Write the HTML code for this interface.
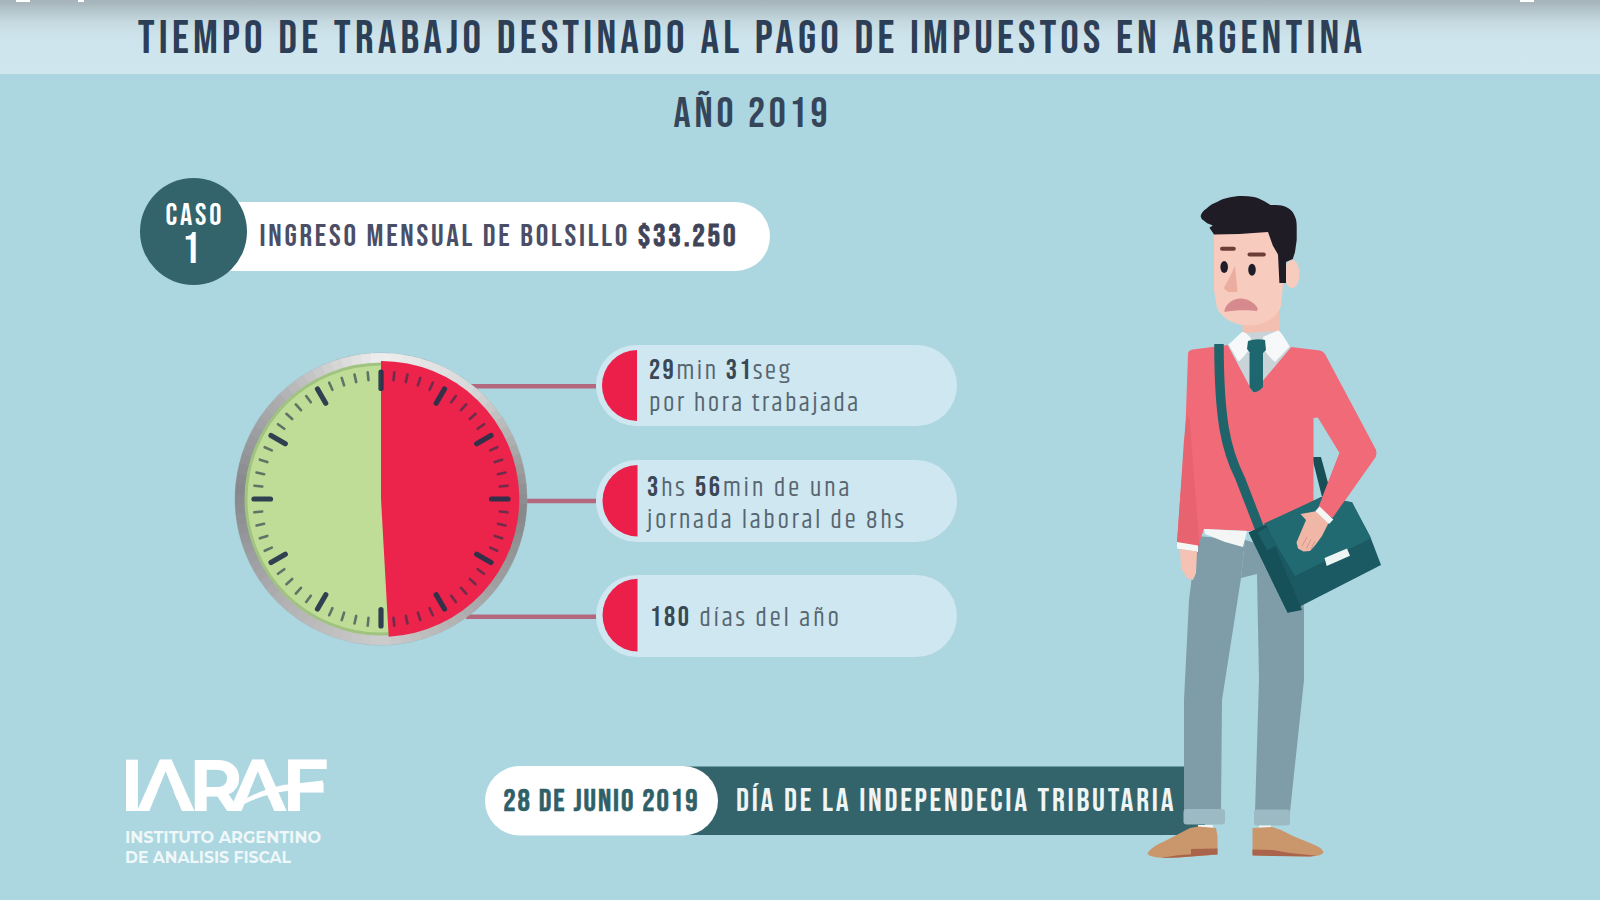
<!DOCTYPE html>
<html lang="es">
<head>
<meta charset="utf-8">
<title>Tiempo de trabajo destinado al pago de impuestos en Argentina</title>
<style>
html,body{margin:0;padding:0;width:1600px;height:900px;overflow:hidden;background:#acd7e0}
svg{display:block}
.bb{font-family:"Bebas Neue","Liberation Sans",sans-serif}
.kh{font-family:"Khand","Liberation Sans",sans-serif}
.mo{font-family:"Montserrat","Liberation Sans",sans-serif}
</style>
</head>
<body>
<svg width="1600" height="900" viewBox="0 0 1600 900">
<defs>
  <linearGradient id="band" x1="0" y1="0" x2="0" y2="1">
    <stop offset="0" stop-color="#a5b3ba"/>
    <stop offset="0.05" stop-color="#a9b8be"/>
    <stop offset="0.15" stop-color="#b5c7cd"/>
    <stop offset="0.3" stop-color="#c5d9e0"/>
    <stop offset="0.5" stop-color="#cee4ec"/>
    <stop offset="1" stop-color="#d0e7ef"/>
  </linearGradient>
</defs>

<!-- background -->
<rect x="0" y="0" width="1600" height="900" fill="#acd7e0"/>
<rect x="0" y="73" width="1600" height="8" fill="#acd5e2"/>
<rect x="0" y="0" width="1600" height="74" fill="url(#band)"/>
<rect x="16" y="0" width="14" height="2" fill="#ffffff"/>
<rect x="78" y="0" width="6" height="2" fill="#ffffff"/>
<rect x="1520" y="0" width="14" height="2" fill="#ffffff"/>

<!-- titles -->
<text class="bb" x="137.8" y="52.9" font-size="46.3" fill="#2d3f56" letter-spacing="4.18" textLength="1228.4" lengthAdjust="spacingAndGlyphs">TIEMPO DE TRABAJO DESTINADO AL PAGO DE IMPUESTOS EN ARGENTINA</text>
<text class="bb" x="673.5" y="127.3" font-size="42.6" fill="#35465b" letter-spacing="3.81" textLength="157.8" lengthAdjust="spacingAndGlyphs">AÑO 2019</text>

<!-- caso pill -->
<rect x="180" y="202" width="590" height="69" rx="34.5" fill="#ffffff"/>
<circle cx="193.5" cy="231.5" r="53.5" fill="#33646b"/>
<text class="bb" x="165.5" y="225.3" font-size="30.4" fill="#ffffff" letter-spacing="2.93" textLength="58.9" lengthAdjust="spacingAndGlyphs">CASO</text>
<text class="bb" x="191" y="263.3" font-size="43.7" fill="#ffffff" text-anchor="middle">1</text>
<text class="bb" x="259.5" y="246.2" font-size="31.4" fill="#4a4f67" letter-spacing="2.74" textLength="478.7" lengthAdjust="spacingAndGlyphs">INGRESO MENSUAL DE BOLSILLO <tspan fill="#3f4459" stroke="#3f4459" stroke-width="0.8">$33.250</tspan></text>

<!-- connectors -->
<g stroke="#b3687e" stroke-width="4.4">
  <line x1="470" y1="386.2" x2="596" y2="386.2"/>
  <line x1="520" y1="501" x2="596" y2="501"/>
  <line x1="466" y1="616.8" x2="596" y2="616.8"/>
</g>

<!-- clock -->
<g id="clock">
  <circle cx="381" cy="499" r="146.5" fill="#9aa6aa" opacity="0.5"/><g id="ringsegs" fill="none" stroke-width="11"><path d="M381.00,358.50 A140.5,140.5 0 0 1 392.27,358.95" stroke="#ededed"/><path d="M390.80,358.84 A140.5,140.5 0 0 1 402.01,360.08" stroke="#ebebeb"/><path d="M400.55,359.87 A140.5,140.5 0 0 1 411.65,361.88" stroke="#e8e8e8"/><path d="M410.21,361.57 A140.5,140.5 0 0 1 421.14,364.36" stroke="#e6e6e6"/><path d="M419.73,363.94 A140.5,140.5 0 0 1 430.43,367.48" stroke="#e4e4e4"/><path d="M429.05,366.97 A140.5,140.5 0 0 1 439.49,371.25" stroke="#e2e2e2"/><path d="M438.15,370.65 A140.5,140.5 0 0 1 448.26,375.64" stroke="#e0e0e0"/><path d="M446.96,374.95 A140.5,140.5 0 0 1 456.70,380.64" stroke="#dddddd"/><path d="M455.45,379.85 A140.5,140.5 0 0 1 464.77,386.20" stroke="#dbdbdb"/><path d="M463.58,385.33 A140.5,140.5 0 0 1 472.43,392.32" stroke="#d9d9d9"/><path d="M471.31,391.37 A140.5,140.5 0 0 1 479.65,398.96" stroke="#d4d4d4"/><path d="M478.60,397.93 A140.5,140.5 0 0 1 486.39,406.09" stroke="#cecece"/><path d="M485.41,404.99 A140.5,140.5 0 0 1 492.62,413.66" stroke="#c8c8c8"/><path d="M491.72,412.50 A140.5,140.5 0 0 1 498.30,421.66" stroke="#c1c1c1"/><path d="M497.48,420.43 A140.5,140.5 0 0 1 503.41,430.03" stroke="#bbbbbb"/><path d="M502.68,428.75 A140.5,140.5 0 0 1 507.92,438.73" stroke="#b4b4b4"/><path d="M507.28,437.41 A140.5,140.5 0 0 1 511.81,447.73" stroke="#aeaeae"/><path d="M511.27,446.37 A140.5,140.5 0 0 1 515.07,456.98" stroke="#a8a8a8"/><path d="M514.62,455.58 A140.5,140.5 0 0 1 517.68,466.44" stroke="#a1a1a1"/><path d="M517.33,465.01 A140.5,140.5 0 0 1 519.61,476.05" stroke="#9c9c9c"/><path d="M519.37,474.60 A140.5,140.5 0 0 1 520.88,485.78" stroke="#979798"/><path d="M520.73,484.31 A140.5,140.5 0 0 1 521.46,495.57" stroke="#919294"/><path d="M521.41,494.10 A140.5,140.5 0 0 1 521.36,505.37" stroke="#8c8e8f"/><path d="M521.41,503.90 A140.5,140.5 0 0 1 520.57,515.15" stroke="#87898b"/><path d="M520.73,513.69 A140.5,140.5 0 0 1 519.10,524.85" stroke="#898a8c"/><path d="M519.37,523.40 A140.5,140.5 0 0 1 516.96,534.42" stroke="#8c8d8f"/><path d="M517.33,532.99 A140.5,140.5 0 0 1 514.16,543.81" stroke="#8f9092"/><path d="M514.62,542.42 A140.5,140.5 0 0 1 510.71,552.99" stroke="#929395"/><path d="M511.27,551.63 A140.5,140.5 0 0 1 506.63,561.91" stroke="#959698"/><path d="M507.28,560.59 A140.5,140.5 0 0 1 501.93,570.52" stroke="#99999b"/><path d="M502.68,569.25 A140.5,140.5 0 0 1 496.65,578.78" stroke="#9c9c9e"/><path d="M497.48,577.57 A140.5,140.5 0 0 1 490.80,586.66" stroke="#9f9fa1"/><path d="M491.72,585.50 A140.5,140.5 0 0 1 484.42,594.10" stroke="#a2a2a4"/><path d="M485.41,593.01 A140.5,140.5 0 0 1 477.54,601.08" stroke="#a6a6a7"/><path d="M478.60,600.07 A140.5,140.5 0 0 1 470.18,607.57" stroke="#a9a9ab"/><path d="M471.31,606.63 A140.5,140.5 0 0 1 462.39,613.53" stroke="#acacae"/><path d="M463.58,612.67 A140.5,140.5 0 0 1 454.20,618.92" stroke="#b0b0b1"/><path d="M455.45,618.15 A140.5,140.5 0 0 1 445.66,623.74" stroke="#b3b3b4"/><path d="M446.96,623.05 A140.5,140.5 0 0 1 436.80,627.94" stroke="#b6b6b7"/><path d="M438.15,627.35 A140.5,140.5 0 0 1 427.67,631.52" stroke="#bababb"/><path d="M429.05,631.03 A140.5,140.5 0 0 1 418.31,634.46" stroke="#bdbdbe"/><path d="M419.73,634.06 A140.5,140.5 0 0 1 408.77,636.73" stroke="#c0c0c1"/><path d="M410.21,636.43 A140.5,140.5 0 0 1 399.10,638.33" stroke="#c4c4c4"/><path d="M400.55,638.13 A140.5,140.5 0 0 1 389.33,639.25" stroke="#c7c7c7"/><path d="M390.80,639.16 A140.5,140.5 0 0 1 379.53,639.49" stroke="#cbcbcb"/><path d="M381.00,639.50 A140.5,140.5 0 0 1 369.73,639.05" stroke="#cbcbcb"/><path d="M371.20,639.16 A140.5,140.5 0 0 1 359.99,637.92" stroke="#c8c8c8"/><path d="M361.45,638.13 A140.5,140.5 0 0 1 350.35,636.12" stroke="#c6c6c6"/><path d="M351.79,636.43 A140.5,140.5 0 0 1 340.86,633.64" stroke="#c3c3c4"/><path d="M342.27,634.06 A140.5,140.5 0 0 1 331.57,630.52" stroke="#c1c1c1"/><path d="M332.95,631.03 A140.5,140.5 0 0 1 322.51,626.75" stroke="#bebebf"/><path d="M323.85,627.35 A140.5,140.5 0 0 1 313.74,622.36" stroke="#bcbcbd"/><path d="M315.04,623.05 A140.5,140.5 0 0 1 305.30,617.36" stroke="#b9b9ba"/><path d="M306.55,618.15 A140.5,140.5 0 0 1 297.23,611.80" stroke="#b7b7b8"/><path d="M298.42,612.67 A140.5,140.5 0 0 1 289.57,605.68" stroke="#b4b4b6"/><path d="M290.69,606.63 A140.5,140.5 0 0 1 282.35,599.04" stroke="#b2b2b4"/><path d="M283.40,600.07 A140.5,140.5 0 0 1 275.61,591.91" stroke="#afafb1"/><path d="M276.59,593.01 A140.5,140.5 0 0 1 269.38,584.34" stroke="#ababae"/><path d="M270.28,585.50 A140.5,140.5 0 0 1 263.70,576.34" stroke="#a7a8aa"/><path d="M264.52,577.57 A140.5,140.5 0 0 1 258.59,567.97" stroke="#a4a4a7"/><path d="M259.32,569.25 A140.5,140.5 0 0 1 254.08,559.27" stroke="#a0a1a4"/><path d="M254.72,560.59 A140.5,140.5 0 0 1 250.19,550.27" stroke="#9c9ea1"/><path d="M250.73,551.63 A140.5,140.5 0 0 1 246.93,541.02" stroke="#999a9d"/><path d="M247.38,542.42 A140.5,140.5 0 0 1 244.32,531.56" stroke="#95979a"/><path d="M244.67,532.99 A140.5,140.5 0 0 1 242.39,521.95" stroke="#919397"/><path d="M242.63,523.40 A140.5,140.5 0 0 1 241.12,512.22" stroke="#8e9094"/><path d="M241.27,513.69 A140.5,140.5 0 0 1 240.54,502.43" stroke="#8b8d91"/><path d="M240.59,503.90 A140.5,140.5 0 0 1 240.64,492.63" stroke="#898b8f"/><path d="M240.59,494.10 A140.5,140.5 0 0 1 241.43,482.85" stroke="#86888c"/><path d="M241.27,484.31 A140.5,140.5 0 0 1 242.90,473.15" stroke="#898b8f"/><path d="M242.63,474.60 A140.5,140.5 0 0 1 245.04,463.58" stroke="#8d8f93"/><path d="M244.67,465.01 A140.5,140.5 0 0 1 247.84,454.19" stroke="#919396"/><path d="M247.38,455.58 A140.5,140.5 0 0 1 251.29,445.01" stroke="#95979a"/><path d="M250.73,446.37 A140.5,140.5 0 0 1 255.37,436.09" stroke="#999a9d"/><path d="M254.72,437.41 A140.5,140.5 0 0 1 260.07,427.48" stroke="#9d9ea1"/><path d="M259.32,428.75 A140.5,140.5 0 0 1 265.35,419.22" stroke="#a1a2a5"/><path d="M264.52,420.43 A140.5,140.5 0 0 1 271.20,411.34" stroke="#a5a6a8"/><path d="M270.28,412.50 A140.5,140.5 0 0 1 277.58,403.90" stroke="#a9aaac"/><path d="M276.59,404.99 A140.5,140.5 0 0 1 284.46,396.92" stroke="#adadaf"/><path d="M283.40,397.93 A140.5,140.5 0 0 1 291.82,390.43" stroke="#b3b3b5"/><path d="M290.69,391.37 A140.5,140.5 0 0 1 299.61,384.47" stroke="#b9b9ba"/><path d="M298.42,385.33 A140.5,140.5 0 0 1 307.80,379.08" stroke="#bfbfc0"/><path d="M306.55,379.85 A140.5,140.5 0 0 1 316.34,374.26" stroke="#c4c4c5"/><path d="M315.04,374.95 A140.5,140.5 0 0 1 325.20,370.06" stroke="#cacacb"/><path d="M323.85,370.65 A140.5,140.5 0 0 1 334.33,366.48" stroke="#d0d0d1"/><path d="M332.95,366.97 A140.5,140.5 0 0 1 343.69,363.54" stroke="#d6d6d6"/><path d="M342.27,363.94 A140.5,140.5 0 0 1 353.23,361.27" stroke="#dcdcdc"/><path d="M351.79,361.57 A140.5,140.5 0 0 1 362.90,359.67" stroke="#e1e1e1"/><path d="M361.45,359.87 A140.5,140.5 0 0 1 372.67,358.75" stroke="#e6e6e6"/><path d="M371.20,358.84 A140.5,140.5 0 0 1 382.47,358.51" stroke="#ececec"/></g>
  <circle cx="381" cy="499" r="136.5" fill="#a0c47f"/>
  <circle cx="381" cy="499" r="133.5" fill="#bfdd96"/>
  <path id="redsector" d="M381,499 L381,361 A138,138 0 0 1 388.7,636.8 Z" fill="#ec234b"/>
  <g id="ticks" stroke="#24324a" stroke-linecap="round"><line x1="381.0" y1="388.5" x2="381.0" y2="372.0" stroke-width="5.2" stroke-opacity="0.92"/><line x1="393.5" y1="380.2" x2="394.3" y2="372.4" stroke-width="2.6" stroke-opacity="0.62"/><line x1="405.8" y1="382.1" x2="407.5" y2="374.5" stroke-width="2.6" stroke-opacity="0.62"/><line x1="417.9" y1="385.3" x2="420.3" y2="377.9" stroke-width="2.6" stroke-opacity="0.62"/><line x1="429.6" y1="389.8" x2="432.8" y2="382.7" stroke-width="2.6" stroke-opacity="0.62"/><line x1="436.2" y1="403.3" x2="444.5" y2="389.0" stroke-width="5.2" stroke-opacity="0.92"/><line x1="451.2" y1="402.3" x2="455.8" y2="396.0" stroke-width="2.6" stroke-opacity="0.62"/><line x1="461.0" y1="410.2" x2="466.2" y2="404.4" stroke-width="2.6" stroke-opacity="0.62"/><line x1="469.8" y1="419.0" x2="475.6" y2="413.8" stroke-width="2.6" stroke-opacity="0.62"/><line x1="477.7" y1="428.8" x2="484.0" y2="424.2" stroke-width="2.6" stroke-opacity="0.62"/><line x1="476.7" y1="443.8" x2="491.0" y2="435.5" stroke-width="5.2" stroke-opacity="0.92"/><line x1="490.2" y1="450.4" x2="497.3" y2="447.2" stroke-width="2.6" stroke-opacity="0.62"/><line x1="494.7" y1="462.1" x2="502.1" y2="459.7" stroke-width="2.6" stroke-opacity="0.62"/><line x1="497.9" y1="474.2" x2="505.5" y2="472.5" stroke-width="2.6" stroke-opacity="0.62"/><line x1="499.8" y1="486.5" x2="507.6" y2="485.7" stroke-width="2.6" stroke-opacity="0.62"/><line x1="491.5" y1="499.0" x2="508.0" y2="499.0" stroke-width="5.2" stroke-opacity="0.92"/><line x1="499.8" y1="511.5" x2="507.6" y2="512.3" stroke-width="2.6" stroke-opacity="0.62"/><line x1="497.9" y1="523.8" x2="505.5" y2="525.5" stroke-width="2.6" stroke-opacity="0.62"/><line x1="494.7" y1="535.9" x2="502.1" y2="538.3" stroke-width="2.6" stroke-opacity="0.62"/><line x1="490.2" y1="547.6" x2="497.3" y2="550.8" stroke-width="2.6" stroke-opacity="0.62"/><line x1="476.7" y1="554.2" x2="491.0" y2="562.5" stroke-width="5.2" stroke-opacity="0.92"/><line x1="477.7" y1="569.2" x2="484.0" y2="573.8" stroke-width="2.6" stroke-opacity="0.62"/><line x1="469.8" y1="579.0" x2="475.6" y2="584.2" stroke-width="2.6" stroke-opacity="0.62"/><line x1="461.0" y1="587.8" x2="466.2" y2="593.6" stroke-width="2.6" stroke-opacity="0.62"/><line x1="451.2" y1="595.7" x2="455.8" y2="602.0" stroke-width="2.6" stroke-opacity="0.62"/><line x1="436.2" y1="594.7" x2="444.5" y2="609.0" stroke-width="5.2" stroke-opacity="0.92"/><line x1="429.6" y1="608.2" x2="432.8" y2="615.3" stroke-width="2.6" stroke-opacity="0.62"/><line x1="417.9" y1="612.7" x2="420.3" y2="620.1" stroke-width="2.6" stroke-opacity="0.62"/><line x1="405.8" y1="615.9" x2="407.5" y2="623.5" stroke-width="2.6" stroke-opacity="0.62"/><line x1="393.5" y1="617.8" x2="394.3" y2="625.6" stroke-width="2.6" stroke-opacity="0.62"/><line x1="381.0" y1="609.5" x2="381.0" y2="626.0" stroke-width="5.2" stroke-opacity="0.92"/><line x1="368.5" y1="617.8" x2="367.7" y2="625.6" stroke-width="2.6" stroke-opacity="0.62"/><line x1="356.2" y1="615.9" x2="354.5" y2="623.5" stroke-width="2.6" stroke-opacity="0.62"/><line x1="344.1" y1="612.7" x2="341.7" y2="620.1" stroke-width="2.6" stroke-opacity="0.62"/><line x1="332.4" y1="608.2" x2="329.2" y2="615.3" stroke-width="2.6" stroke-opacity="0.62"/><line x1="325.8" y1="594.7" x2="317.5" y2="609.0" stroke-width="5.2" stroke-opacity="0.92"/><line x1="310.8" y1="595.7" x2="306.2" y2="602.0" stroke-width="2.6" stroke-opacity="0.62"/><line x1="301.0" y1="587.8" x2="295.8" y2="593.6" stroke-width="2.6" stroke-opacity="0.62"/><line x1="292.2" y1="579.0" x2="286.4" y2="584.2" stroke-width="2.6" stroke-opacity="0.62"/><line x1="284.3" y1="569.2" x2="278.0" y2="573.8" stroke-width="2.6" stroke-opacity="0.62"/><line x1="285.3" y1="554.2" x2="271.0" y2="562.5" stroke-width="5.2" stroke-opacity="0.92"/><line x1="271.8" y1="547.6" x2="264.7" y2="550.8" stroke-width="2.6" stroke-opacity="0.62"/><line x1="267.3" y1="535.9" x2="259.9" y2="538.3" stroke-width="2.6" stroke-opacity="0.62"/><line x1="264.1" y1="523.8" x2="256.5" y2="525.5" stroke-width="2.6" stroke-opacity="0.62"/><line x1="262.2" y1="511.5" x2="254.4" y2="512.3" stroke-width="2.6" stroke-opacity="0.62"/><line x1="270.5" y1="499.0" x2="254.0" y2="499.0" stroke-width="5.2" stroke-opacity="0.92"/><line x1="262.2" y1="486.5" x2="254.4" y2="485.7" stroke-width="2.6" stroke-opacity="0.62"/><line x1="264.1" y1="474.2" x2="256.5" y2="472.5" stroke-width="2.6" stroke-opacity="0.62"/><line x1="267.3" y1="462.1" x2="259.9" y2="459.7" stroke-width="2.6" stroke-opacity="0.62"/><line x1="271.8" y1="450.4" x2="264.7" y2="447.2" stroke-width="2.6" stroke-opacity="0.62"/><line x1="285.3" y1="443.8" x2="271.0" y2="435.5" stroke-width="5.2" stroke-opacity="0.92"/><line x1="284.3" y1="428.8" x2="278.0" y2="424.2" stroke-width="2.6" stroke-opacity="0.62"/><line x1="292.2" y1="419.0" x2="286.4" y2="413.8" stroke-width="2.6" stroke-opacity="0.62"/><line x1="301.0" y1="410.2" x2="295.8" y2="404.4" stroke-width="2.6" stroke-opacity="0.62"/><line x1="310.8" y1="402.3" x2="306.2" y2="396.0" stroke-width="2.6" stroke-opacity="0.62"/><line x1="325.7" y1="403.3" x2="317.5" y2="389.0" stroke-width="5.2" stroke-opacity="0.92"/><line x1="332.4" y1="389.8" x2="329.2" y2="382.7" stroke-width="2.6" stroke-opacity="0.62"/><line x1="344.1" y1="385.3" x2="341.7" y2="377.9" stroke-width="2.6" stroke-opacity="0.62"/><line x1="356.2" y1="382.1" x2="354.5" y2="374.5" stroke-width="2.6" stroke-opacity="0.62"/><line x1="368.5" y1="380.2" x2="367.7" y2="372.4" stroke-width="2.6" stroke-opacity="0.62"/></g>
</g>

<!-- pills -->
<g>
  <rect x="596" y="345" width="361" height="81" rx="40.5" fill="#cfe7f0"/>
  <path d="M637,350 A35,35.5 0 0 0 637,421 Z" fill="#ec1f4b"/>
  <rect x="596" y="460" width="361" height="82" rx="41" fill="#cfe7f0"/>
  <path d="M637.5,465 A35,35.8 0 0 0 637.5,536.6 Z" fill="#ec1f4b"/>
  <rect x="596" y="575" width="361" height="82" rx="41" fill="#cfe7f0"/>
  <path d="M637.5,578.8 A35,36.3 0 0 0 637.5,651.4 Z" fill="#ec1f4b"/>
</g>
<g class="kh" fill="#56656f" font-size="26" font-weight="400">
  <text id="t1a" x="649" y="379" letter-spacing="2.36" textLength="143.4" lengthAdjust="spacingAndGlyphs"><tspan class="bb" font-size="28" font-weight="400" fill="#3a4856">29</tspan>min <tspan class="bb" font-size="28" font-weight="400" fill="#3a4856">31</tspan>seg</text>
  <text id="t1b" x="649" y="411" letter-spacing="2.33" textLength="211.7" lengthAdjust="spacingAndGlyphs">por hora trabajada</text>
  <text id="t2a" x="647" y="496" letter-spacing="2.69" textLength="205.3" lengthAdjust="spacingAndGlyphs"><tspan class="bb" font-size="28" font-weight="400" fill="#3a4856">3</tspan>hs <tspan class="bb" font-size="28" font-weight="400" fill="#3a4856">56</tspan>min de una</text>
  <text id="t2b" x="647" y="528" letter-spacing="2.52" textLength="259.3" lengthAdjust="spacingAndGlyphs">jornada laboral de 8hs</text>
  <text id="t3" x="650" y="626" letter-spacing="2.7" textLength="191.7" lengthAdjust="spacingAndGlyphs"><tspan class="bb" font-size="28" font-weight="400" fill="#3a4856">180</tspan> días del año</text>
</g>

<!-- bottom banner -->
<rect x="680" y="766.5" width="525" height="68.5" rx="3" fill="#33646b"/>
<rect x="485" y="766" width="233" height="69.5" rx="34.75" fill="#ffffff"/>
<text class="bb" x="503.3" y="811" font-size="31" fill="#2f6068" stroke="#2f6068" stroke-width="0.6" letter-spacing="1.92" textLength="196.2" lengthAdjust="spacingAndGlyphs">28 DE JUNIO 2019</text>
<text class="bb" x="736" y="811.2" font-size="32" fill="#eef5f4" letter-spacing="2.73" textLength="440.2" lengthAdjust="spacingAndGlyphs">DÍA DE LA INDEPENDECIA TRIBUTARIA</text>

<!-- logo -->
<g fill="#ffffff">
  <text class="mo" x="120 137.7 188.8 230 282" y="810.5" font-size="73" font-weight="700">IARAF</text><polygon points="159.0,787.7 172.0,787.7 177.6,801.2 153.4,801.2" fill="#acd7e0"/><polygon points="251.3,787.7 264.3,787.7 269.9,801.2 245.7,801.2" fill="#acd7e0"/><path d="M229,810 C242,799 260,790 283,785 L323,780.5 L322,789 L290,790.5 C268,793 250,800 233,810 Z" fill="#ffffff"/>
  <text class="mo" x="125" y="843" font-size="16" font-weight="700" fill-opacity="0.82" textLength="196" lengthAdjust="spacingAndGlyphs">INSTITUTO ARGENTINO</text>
  <text class="mo" x="125" y="863" font-size="16" font-weight="700" fill-opacity="0.82" textLength="166" lengthAdjust="spacingAndGlyphs">DE ANALISIS FISCAL</text>
</g>

<!-- person -->
<g id="person">
  <!-- back strap -->
  <polygon points="1312,457 1321,457 1331,494 1322,497" fill="#1a4e55"/>
  <!-- legs -->
  <polygon points="1245,540 1302,556 1304,612 1304,680 1290,812 1255,812 1259,680 1257,574 1241,578" fill="#7f9da8"/>
  <polygon points="1197,536 1245,540 1241,578 1222,700 1221,812 1184,812 1184,700 1189,600" fill="#7f9da8"/>
  <rect x="1183.5" y="809" width="41.5" height="15.5" rx="3" fill="#9bbac4"/>
  <rect x="1254" y="809.5" width="36" height="16" rx="3" fill="#9bbac4"/>
  <!-- socks -->
  <rect x="1198" y="825" width="15" height="5" fill="#f2f4f4"/>
  <rect x="1259" y="825.5" width="12" height="4.5" fill="#f2f4f4"/>
  <!-- shoes -->
  <path d="M1147.5,854 C1149,849 1156,845 1165,841 L1190,828 L1198,826.5 L1216,828 L1217.5,836 L1217.5,854.5 L1178,857.5 C1165,858.3 1152,858.3 1147.5,854 Z" fill="#ca966b"/>
  <path d="M1191,849 L1217.5,848.5 L1217.5,854.5 L1178,857.5 L1160,858 L1178,855.2 L1191,854.3 Z" fill="#a9644b"/>
  <path d="M1252.5,828 L1272,827 L1281,830 L1293,836 L1310,843 C1318,846 1323,849 1323.5,852.5 C1322,855 1318,856 1310,856.5 L1272,855.8 L1252.5,855.3 Z" fill="#ca966b"/>
  <path d="M1252.5,849.5 L1272.5,850 L1290,853 L1316,855.8 L1310,856.6 L1272,856 L1252.5,855.5 Z" fill="#a9644b"/>
  <!-- sweater -->
  <path d="M1188,354 Q1188,350 1193,349.5 L1228,345 L1253,392 L1291,347 L1320,350.5 Q1323,351 1325,354 L1375.6,449 Q1377,453 1375.5,457 L1332.5,518 L1318,508.5 L1339.5,453 L1317.8,417.5 L1313.5,418 L1313.5,502 L1290,520 L1250,531 L1204,529 L1198,546 L1177,543 L1180,500 L1185,440 Z" fill="#f06b77"/>
  <polygon points="1186.5,415 1189.5,418 1199.5,546 1177,543 1180,500 1184,440" fill="#e6636f"/>
  <!-- shirt tail -->
  <polygon points="1204,529 1247,531 1243,547 1225,542 1205,534" fill="#f4f6f6"/>
  <!-- left cuff & hand -->
  <polygon points="1177,542 1198,545.5 1198,552 1177,548.5" fill="#f4f6f6"/>
  <path d="M1180,549 L1197,551.5 L1196,573 L1193,580 L1187,578 L1181,568 Z" fill="#f5c2b3"/>
  <!-- front strap -->
  <path d="M1219,344 C1219,420 1226,450 1240,478 L1266,545" fill="none" stroke="#1e646a" stroke-width="9.5"/>
  <!-- bag -->
  <polygon points="1248.7,532.6 1321,497 1352,502.3 1370,536 1381,565 1287.7,612.8" fill="#1b5a62"/>
  <polygon points="1264,523.5 1321,497.3 1352,502.3 1370.8,538.4 1294.9,576" fill="#226a72"/>
  <polygon points="1248.7,532.6 1266,524.7 1302,610 1287.7,612.8" fill="#16515a"/>
  <path d="M1262,530 L1272,548" stroke="#1d6067" stroke-width="10.5"/>
  <polygon points="1324.5,558 1347,548.5 1350,555.8 1326.7,565.9" fill="#eef5f5"/>
  <!-- forearm over bag -->
  <path d="M1339.5,453 L1375.6,449 Q1377,453 1375.5,457 L1332.5,518 L1318,508.5 Z" fill="#f06b77"/>
  <!-- hand on bag -->
  <path d="M1300.5,514 L1317.5,511 L1329.5,521 L1322,536 L1315,545.5 L1310,551 L1303.5,551.5 L1298,548.5 L1296.5,542.5 L1300.5,533 L1306,520 Z" fill="#f0b7a7"/><path d="M1302,546 L1307,537 M1306.5,548.5 L1311,539.5 M1311,549 L1315,541" stroke="#c98f84" stroke-width="0.8" fill="none"/>
  <polygon points="1315.4,510.9 1319.6,506.5 1333.3,519.5 1329.1,523.9" fill="#f4f6f6"/>
  <!-- neck -->
  <polygon points="1242,318 1279,310 1280,335 1262,342 1243,337" fill="#f2bfb1"/>
  <!-- shirt V -->
  <polygon points="1228,345.5 1242,333 1279,331 1291,347 1253,392.5" fill="#c9d4d8"/>
  <!-- collar -->
  <path d="M1228.5,344.5 L1242,332 Q1245,331 1251,338 L1248,351 Q1243,358 1238.5,361.5 Z" fill="#f6f8f9"/>
  <path d="M1263,337 L1278,330.5 Q1281,331 1289.5,346.5 L1275,362 Q1268,356 1265,351 Z" fill="#f6f8f9"/>
  <!-- tie -->
  <path d="M1248,341 Q1256,338 1265,340 L1266,350 L1262,354 L1251,354 L1247,349 Z" fill="#1e676e"/>
  <path d="M1249.5,353 L1263,353 L1263,387 Q1258,393 1253,392 L1249.5,387 Z" fill="#1e676e"/>
  <!-- ear -->
  <ellipse cx="1292" cy="274" rx="7.5" ry="14" fill="#f8cbbf"/>
  <!-- face -->
  <path d="M1214,232 L1272,232 L1279,250 L1283,285 L1281,306 C1278,315 1270,322 1256,325 C1240,327 1224,322 1217,308 L1214,290 Z" fill="#f8cbbf"/>
  <!-- hair -->
  <path d="M1201.7,219 L1200.6,216 C1202,212 1204,210 1206,209 C1210,205 1213,203.5 1217,202 C1221,200 1224,198.5 1228,197.8 C1233,196.5 1237,196 1241.7,196 C1246,196 1250,196.3 1254,197 C1258,198 1261,199.5 1264,201 L1270.5,205 C1274,205 1278,205 1281.7,205.5 C1284,206 1286,207 1288,208 C1291,210 1293,212 1294,214.4 C1296,218 1296.7,221 1296.7,226 L1296.7,240 L1295,252 L1292.8,259 L1286,262 L1286,283 L1279.4,283 L1278,254.4 L1272.8,245.6 L1268,232 L1239.4,234 L1214,234.4 L1211.7,231 L1209.4,227.8 L1212.8,225.5 L1207.2,223.3 Z" fill="#1f1c25"/>
  <!-- eyebrows -->
  <rect x="1220" y="246.7" width="15.8" height="4" rx="2" fill="#6b3d36"/>
  <rect x="1247.5" y="252.5" width="18.3" height="4" rx="2" fill="#6b3d36"/>
  <!-- eyes -->
  <ellipse cx="1224.2" cy="267" rx="3.8" ry="6" fill="#1f1d2a"/>
  <ellipse cx="1252" cy="269.7" rx="3.8" ry="6" fill="#1f1d2a"/>
  <!-- nose -->
  <polygon points="1235,265.8 1237.5,291.7 1228.3,292 1223.7,288.3 1230,276.7" fill="#eaad9f"/>
  <!-- mouth -->
  <path d="M1224.5,310.5 C1226,303.5 1233,298.5 1240.5,298.5 C1248,298.5 1255,303 1257.8,308.5 L1257,311 C1248,309.5 1233,310 1224.5,312 Z" fill="#d78a8e"/>
</g>
</svg>
</body>
</html>
